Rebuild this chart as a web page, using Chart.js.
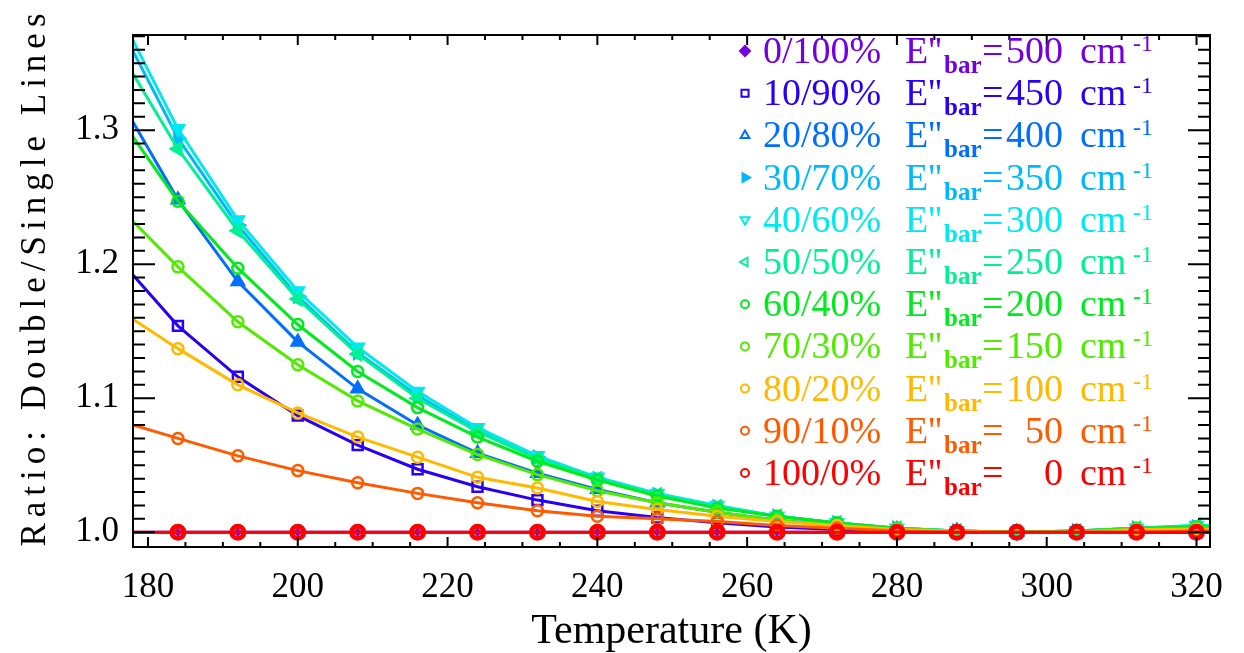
<!DOCTYPE html>
<html>
<head>
<meta charset="utf-8">
<script src="https://cdn.jsdelivr.net/npm/chart.js@4.4.0/dist/chart.umd.min.js"></script>
<style>
  html, body { margin: 0; padding: 0; background: #fff; }
</style>
</head>
<body>
<canvas id="myChart" width="1244" height="653"></canvas>
<script>
// temperature grid (K); first and last entries are where the curves meet the frame
var temps = [178, 184, 192, 200, 208, 216, 224, 232, 240, 248, 256, 264, 272, 280, 288, 296, 304, 312, 320, 321.8];

// mixing fractions and barrier energies shown in the key
var mixes = ['0/100%', '10/90%', '20/80%', '30/70%', '40/60%', '50/50%', '60/40%', '70/30%', '80/20%', '90/10%', '100/0%'];
var barriers = ['500', '450', '400', '350', '300', '250', '200', '150', '100', '50', '0'];

// double/single line ratio for each mixture
var ratio0 = [1.000, 1.000, 1.000, 1.000, 1.000, 1.000, 1.000, 1.000, 1.000, 1.000, 1.000, 1.000, 1.000, 1.000, 1.000, 1.000, 1.000, 1.000, 1.000, 1.000];
var ratio10 = [1.192, 1.154, 1.116, 1.087, 1.065, 1.047, 1.034, 1.024, 1.016, 1.011, 1.007, 1.004, 1.002, 1.001, 1.000, 1.000, 1.000, 1.000, 1.000, 1.000];
var ratio20 = [1.306, 1.248, 1.187, 1.142, 1.107, 1.080, 1.059, 1.044, 1.032, 1.022, 1.015, 1.009, 1.005, 1.002, 1.001, 1.000, 1.000, 1.001, 1.002, 1.002];
var ratio30 = [1.359, 1.294, 1.229, 1.176, 1.134, 1.102, 1.076, 1.056, 1.040, 1.028, 1.019, 1.012, 1.007, 1.003, 1.001, 1.000, 1.001, 1.003, 1.004, 1.004];
var ratio40 = [1.367, 1.301, 1.233, 1.180, 1.138, 1.105, 1.078, 1.057, 1.041, 1.029, 1.020, 1.012, 1.007, 1.003, 1.001, 1.000, 1.001, 1.003, 1.005, 1.005];
var ratio50 = [1.342, 1.286, 1.225, 1.174, 1.133, 1.100, 1.075, 1.055, 1.040, 1.028, 1.019, 1.012, 1.007, 1.003, 1.001, 1.000, 1.001, 1.003, 1.005, 1.005];
var ratio60 = [1.295, 1.247, 1.197, 1.155, 1.120, 1.093, 1.071, 1.053, 1.039, 1.027, 1.018, 1.012, 1.007, 1.003, 1.001, 1.000, 1.001, 1.003, 1.004, 1.004];
var ratio70 = [1.232, 1.198, 1.157, 1.125, 1.098, 1.077, 1.058, 1.043, 1.031, 1.022, 1.015, 1.009, 1.005, 1.002, 1.001, 1.000, 1.001, 1.002, 1.003, 1.003];
var ratio80 = [1.159, 1.137, 1.110, 1.089, 1.071, 1.056, 1.041, 1.033, 1.023, 1.017, 1.012, 1.008, 1.005, 1.002, 1.001, 1.000, 1.000, 1.002, 1.002, 1.002];
var ratio90 = [1.080, 1.070, 1.057, 1.046, 1.037, 1.029, 1.022, 1.016, 1.012, 1.010, 1.008, 1.005, 1.003, 1.001, 1.000, 1.000, 1.000, 1.000, 1.001, 1.001];
var ratio100 = [1.000, 1.000, 1.000, 1.000, 1.000, 1.000, 1.000, 1.000, 1.000, 1.000, 1.000, 1.000, 1.000, 1.000, 1.000, 1.000, 1.000, 1.000, 1.000, 1.000];

var xTicks = [180, 200, 220, 240, 260, 280, 300, 320];
var yTicks = [1.0, 1.1, 1.2, 1.3];

var series = [ratio0, ratio10, ratio20, ratio30, ratio40, ratio50, ratio60, ratio70, ratio80, ratio90, ratio100];

// look of each curve
var colors = ['rgb(115,0,225)', 'rgb(40,0,245)', 'rgb(0,110,255)', 'rgb(0,185,250)', 'rgb(0,232,240)',
              'rgb(0,240,150)', 'rgb(0,235,30)', 'rgb(80,235,0)', 'rgb(255,185,0)', 'rgb(255,90,0)', 'rgb(255,0,0)'];
var shapes = ['rectRot', 'rect', 'triangle', 'triangle', 'triangle', 'triangle', 'circle', 'circle', 'circle', 'circle', 'circle'];
var turns = [0, 0, 0, 90, 180, 270, 0, 0, 0, 0, 0];
var solid = [true, false, true, true, true, true, false, false, false, false, false];
var sizes = [3, 7, 7, 7, 7, 7, 5.5, 5.5, 5.5, 5.5, 6];
var rims = [2, 2.5, 2.5, 2.5, 2.5, 2.5, 2.5, 2.5, 2.5, 2.5, 5];
var keySolid = [true, false, false, true, false, false, false, false, false, false, false];

var clear = 'rgba(0,0,0,0)';
var serif = '"Liberation Serif", "DejaVu Serif", serif';

var datasets = series.map(function (vals, i) {
  return {
    label: mixes[i],
    data: temps.map(function (t, j) { return { x: t, y: vals[j] }; }),
    borderColor: colors[i],
    backgroundColor: colors[i],
    borderWidth: 3,
    tension: 0,
    fill: false,
    pointStyle: shapes[i],
    pointRotation: turns[i],
    pointRadius: function (c) {
      return (c.dataIndex === 0 || c.dataIndex === temps.length - 1) ? 0 : sizes[i];
    },
    pointBorderWidth: rims[i],
    pointBorderColor: colors[i],
    pointBackgroundColor: solid[i] ? colors[i] : clear,
    order: series.length - i
  };
});

// box with inward ticks on all four sides, plus axis titles
var frame = {
  id: 'frame',
  afterDraw: function (chart) {
    var ctx = chart.ctx, a = chart.chartArea;
    var xs = chart.scales.x, ys = chart.scales.y;
    ctx.save();
    ctx.strokeStyle = '#000';
    ctx.lineWidth = 2;
    ctx.strokeRect(a.left, a.top, a.right - a.left, a.bottom - a.top);
    ctx.beginPath();
    for (var t = 180; t <= 320; t += 5) {
      var px = xs.getPixelForValue(t);
      var lx = (t % 20 === 0) ? 10 : 5;
      ctx.moveTo(px, a.bottom); ctx.lineTo(px, a.bottom - lx);
      ctx.moveTo(px, a.top); ctx.lineTo(px, a.top + lx);
    }
    for (var k = 100; k <= 137; k++) {
      var py = ys.getPixelForValue(k / 100);
      var ly = (k % 10 === 0) ? 22 : 12;
      ctx.moveTo(a.left, py); ctx.lineTo(a.left + ly, py);
      ctx.moveTo(a.right, py); ctx.lineTo(a.right - ly, py);
    }
    ctx.stroke();

    ctx.fillStyle = '#000';
    ctx.font = '42px ' + serif;
    ctx.textAlign = 'center';
    ctx.textBaseline = 'alphabetic';
    ctx.fillText('Temperature (K)', (a.left + a.right) / 2, 643);

    ctx.translate(45, (a.top + a.bottom) / 2 - 14);
    ctx.rotate(-Math.PI / 2);
    ctx.font = '35px ' + serif;
    ctx.letterSpacing = '6px';
    ctx.fillText('Ratio: Double/Single Lines', 0, 0);
    ctx.restore();
  }
};

// key with E''bar subscripts and cm^-1 superscripts
var key = {
  id: 'key',
  afterDraw: function (chart) {
    var ctx = chart.ctx;
    ctx.save();
    ctx.textBaseline = 'alphabetic';
    for (var i = 0; i < mixes.length; i++) {
      var y = 63 + i * 42.2;
      var c = colors[i];
      ctx.strokeStyle = c;
      ctx.lineWidth = 2;
      var mark = {
        pointStyle: shapes[i],
        rotation: turns[i],
        radius: shapes[i] === 'circle' ? 4 : 5,
        borderWidth: 2
      };
      ctx.fillStyle = keySolid[i] ? c : clear;
      Chart.helpers.drawPoint(ctx, mark, 745, y - 12);
      ctx.fillStyle = c;

      ctx.font = '38px ' + serif;
      ctx.textAlign = 'left';
      ctx.fillText(mixes[i], 763, y);
      ctx.fillText("E''", 905, y);
      ctx.fillText('=', 982, y);
      ctx.textAlign = 'right';
      ctx.fillText(barriers[i], 1063, y);
      ctx.textAlign = 'left';
      ctx.fillText('cm', 1080, y);

      ctx.font = 'bold 25px ' + serif;
      ctx.fillText('bar', 944, y + 10);
      ctx.font = '24px ' + serif;
      ctx.fillText('-1', 1133, y - 12);
    }
    ctx.restore();
  }
};

var ctx = document.getElementById('myChart').getContext('2d');
var chart = new Chart(ctx, {
  type: 'line',
  data: { datasets: datasets },
  options: {
    responsive: false,
    animation: false,
    events: [],
    layout: { padding: { top: 8, right: 34, left: 0, bottom: 0 } },
    plugins: {
      legend: { display: false },
      tooltip: { enabled: false }
    },
    scales: {
      x: {
        type: 'linear',
        min: 178,
        max: 321.8,
        grid: { display: false, drawTicks: false },
        border: { display: false },
        ticks: { color: '#000', font: { family: serif, size: 35 }, padding: 20, maxRotation: 0 },
        afterBuildTicks: function (s) { s.ticks = xTicks.map(function (v) { return { value: v }; }); },
        afterFit: function (s) { s.height = 106; }
      },
      y: {
        type: 'linear',
        min: 0.989,
        max: 1.371,
        grid: { display: false, drawTicks: false },
        border: { display: false },
        ticks: {
          color: '#000',
          font: { family: serif, size: 35 },
          padding: 14,
          callback: function (v) { return v.toFixed(1); }
        },
        afterBuildTicks: function (s) { s.ticks = yTicks.map(function (v) { return { value: v }; }); },
        afterFit: function (s) { s.width = 133; }
      }
    }
  },
  plugins: [frame, key]
});
</script>
</body>
</html>
